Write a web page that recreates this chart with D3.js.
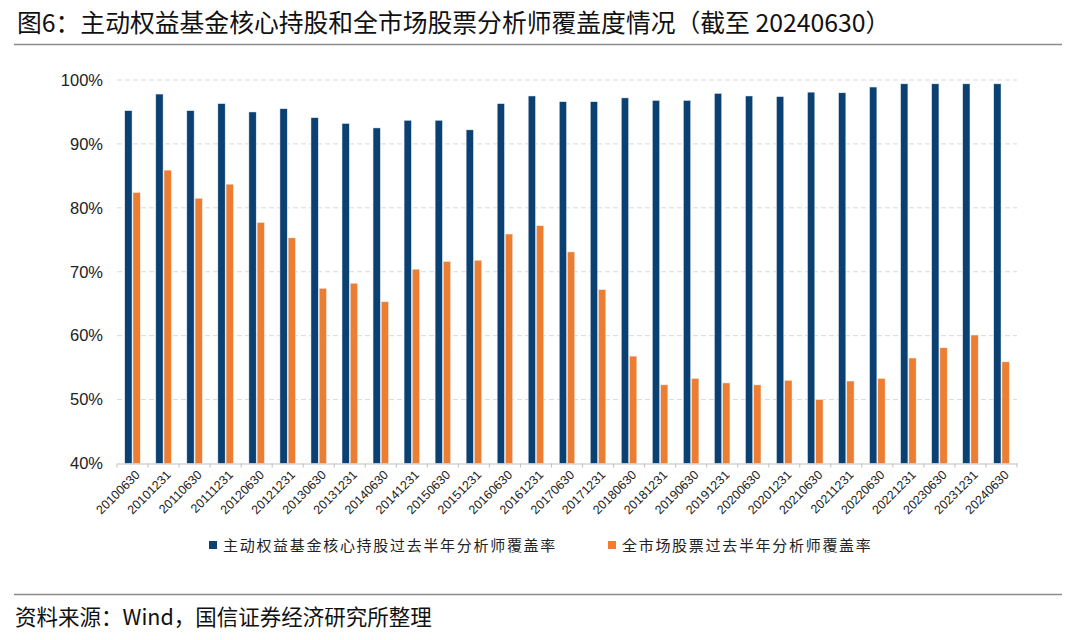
<!DOCTYPE html>
<html>
<head>
<meta charset="utf-8">
<script src="https://cdn.jsdelivr.net/npm/d3@7"></script>
<style>
  html, body { margin: 0; padding: 0; background: #fff; }
  svg { display: block; }
</style>
</head>
<body>
<svg id="chart" width="1080" height="640"></svg>
<script>
const categories = ["20100630","20101231","20110630","20111231","20120630","20121231","20130630","20131231","20140630","20141231","20150630","20151231","20160630","20161231","20170630","20171231","20180630","20181231","20190630","20191231","20200630","20201231","20210630","20211231","20220630","20221231","20230630","20231231","20240630"];
const coreHoldings = [95.2,97.8,95.2,96.3,95.0,95.5,94.1,93.2,92.5,93.7,93.7,92.2,96.3,97.5,96.6,96.6,97.2,96.8,96.8,97.9,97.5,97.4,98.1,98.0,98.9,99.4,99.4,99.4,99.4];
const allMarket = [82.4,85.9,81.5,83.7,77.7,75.3,67.4,68.2,65.3,70.4,71.6,71.8,75.9,77.2,73.1,67.2,56.8,52.3,53.3,52.6,52.3,53.0,50.0,52.9,53.3,56.5,58.1,60.1,55.9];
const seriesNames = ["主动权益基金核心持股过去半年分析师覆盖率","全市场股票过去半年分析师覆盖率"];
const yTicks = [40,50,60,70,80,90,100];
const titleText = "图6：主动权益基金核心持股和全市场股票分析师覆盖度情况（截至 20240630）";
const sourceText = "资料来源：Wind，国信证券经济研究所整理";

const colors = ["#0B4172", "#ED7D31"];
const svg = d3.select("#chart");
const cjk = "'Noto Sans CJK SC', 'Noto Sans', sans-serif";
const latin = "'Liberation Sans', Arial, sans-serif";

const plotL = 117, plotR = 1017, plotT = 80, plotB = 463.5;

const x = d3.scaleBand().domain(categories).range([plotL, plotR]).paddingInner(0).paddingOuter(0);
const y = d3.scaleLinear().domain([40, 100]).range([plotB, plotT]);

// Title
svg.append("text").attr("x", 17).attr("y", 32)
  .attr("font-family", cjk).attr("font-size", 24.8).attr("fill", "#111")
  .text(titleText);
svg.append("line").attr("x1", 14).attr("x2", 1062).attr("y1", 44.5).attr("y2", 44.5)
  .attr("stroke", "#8c8c8c").attr("stroke-width", 1.5);

// Gridlines
svg.append("g").selectAll("line").data(yTicks.filter(d => d > 40)).join("line")
  .attr("x1", plotL).attr("x2", plotR)
  .attr("y1", d => y(d)).attr("y2", d => y(d))
  .attr("stroke", "#d9d9d9").attr("stroke-width", 1).attr("stroke-dasharray", "5,3");

// Y axis labels
const yAxis = d3.axisLeft(y).tickValues(yTicks).tickFormat(d => d + "%").tickSize(0).tickPadding(14);
const yg = svg.append("g").attr("transform", `translate(${plotL},0)`).call(yAxis);
yg.select(".domain").remove();
yg.selectAll("text").attr("font-family", latin).attr("font-size", 16.5).attr("fill", "#222");

// Bars
const bw = x.bandwidth();
const barW = bw * 0.235;
const gap = bw * 0.03;
const startOff = (bw - (2 * barW + gap)) / 2;
const series = [coreHoldings, allMarket];
series.forEach((vals, si) => {
  svg.append("g").selectAll("rect").data(categories).join("rect")
    .attr("x", (d) => x(d) + startOff + si * (barW + gap))
    .attr("y", (d, i) => y(vals[i]))
    .attr("width", barW)
    .attr("height", (d, i) => y(40) - y(vals[i]))
    .attr("fill", colors[si])
    .attr("stroke", "#e8eef6").attr("stroke-width", 0.5);
});

// X axis
const xAxis = d3.axisBottom(x).tickSize(0).tickFormat("");
const xg = svg.append("g").attr("transform", `translate(0,${plotB})`).call(xAxis);
xg.select(".domain").attr("stroke", "#bfbfbf").attr("stroke-width", 1.2);
const bounds = categories.map(c => x(c)).concat([plotR]);
svg.append("g").selectAll("line").data(bounds).join("line")
  .attr("x1", d => d).attr("x2", d => d)
  .attr("y1", plotB).attr("y2", plotB + 4)
  .attr("stroke", "#bfbfbf").attr("stroke-width", 1);
svg.append("g").selectAll("text").data(categories).join("text")
  .attr("transform", d => `translate(${x(d) + bw / 2 + 2},${plotB + 6}) rotate(-45)`)
  .attr("text-anchor", "end").attr("dy", "0.7em")
  .attr("font-family", latin).attr("font-size", 12.5).attr("fill", "#222")
  .text(d => d);

// Legend
const legendItems = [{x: 209, name: seriesNames[0], c: colors[0]}, {x: 608, name: seriesNames[1], c: colors[1]}];
const lg = svg.append("g");
legendItems.forEach(it => {
  lg.append("rect").attr("x", it.x).attr("y", 541).attr("width", 8).attr("height", 8).attr("fill", it.c);
  lg.append("text").attr("x", it.x + 14).attr("y", 551)
    .attr("font-family", cjk).attr("font-size", 15).attr("letter-spacing", 1.7)
    .attr("fill", "#222").text(it.name);
});

// Footer
svg.append("line").attr("x1", 14).attr("x2", 1062).attr("y1", 594.5).attr("y2", 594.5)
  .attr("stroke", "#8c8c8c").attr("stroke-width", 1.5);
svg.append("text").attr("x", 15).attr("y", 625)
  .attr("font-family", cjk).attr("font-size", 21.5).attr("fill", "#111")
  .text(sourceText);
</script>
</body>
</html>
